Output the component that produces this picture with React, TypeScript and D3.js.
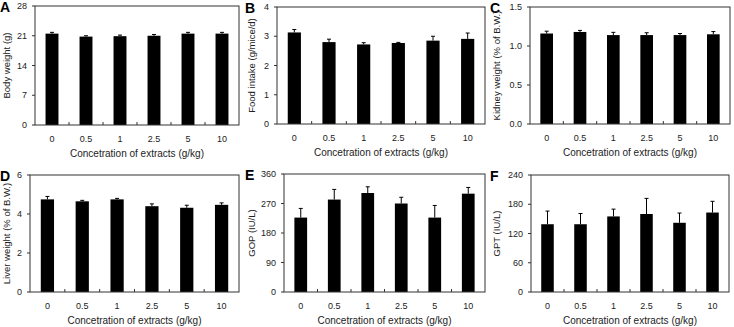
import React from 'react';
import * as d3 from 'd3';

// Dose groups (g/kg)
const doses = ['0', '0.5', '1', '2.5', '5', '10'];

// Body weight (g)
const bodyWeight = [21.5, 20.8, 20.9, 21.0, 21.5, 21.5];
const bodyWeightErr = [0.3, 0.2, 0.25, 0.3, 0.3, 0.3];
const bodyWeightTicks = [0, 7, 14, 21, 28];

// Food intake (g/mice/d)
const foodIntake = [3.13, 2.8, 2.72, 2.77, 2.85, 2.91];
const foodIntakeErr = [0.1, 0.1, 0.06, 0.02, 0.15, 0.2];
const foodIntakeTicks = [0, 1, 2, 3, 4];

// Kidney weight (% of B.W.)
const kidneyWeight = [1.16, 1.18, 1.14, 1.14, 1.14, 1.15];
const kidneyWeightErr = [0.03, 0.02, 0.035, 0.03, 0.02, 0.035];
const kidneyWeightTicks = [0.0, 0.5, 1.0, 1.5];

// Liver weight (% of B.W.)
const liverWeight = [4.75, 4.65, 4.75, 4.4, 4.32, 4.47];
const liverWeightErr = [0.15, 0.05, 0.05, 0.12, 0.13, 0.1];
const liverWeightTicks = [0, 2, 4, 6];

// GOP (IU/L)
const gop = [227, 282, 302, 270, 227, 300];
const gopErr = [28, 31, 19, 19, 37, 19];
const gopTicks = [0, 90, 180, 270, 360];

// GPT (IU/L)
const gpt = [139, 139, 155, 160, 142, 163];
const gptErr = [27, 22, 15, 32, 20, 23];
const gptTicks = [0, 60, 120, 180, 240];

const font = 'Arial, "Liberation Sans", Helvetica, sans-serif';

type PanelProps = {
  letter: string;
  yLabel: string;
  values: number[];
  errors: number[];
  ticks: number[];
  tickFormat: (v: number) => string;
  left: number;
  right: number;
  top: number;
  bottom: number;
  ox: number;
};

const Panel = ({ letter, yLabel, values, errors, ticks, tickFormat, left, right, top, bottom, ox }: PanelProps) => {
  const x = d3.scaleBand<string>().domain(doses).range([left, right]).paddingInner(0.62).paddingOuter(0.31);
  const y = d3.scaleLinear().domain([ticks[0], ticks[ticks.length - 1]]).range([bottom, top]);
  const step = x.step();
  const bw = x.bandwidth();
  const bounds = doses.slice(1).map((d) => (x(d) as number) - (step - bw) / 2);

  return (
    <g>
      <text x={ox} y={top + 6} fontSize={14} fontWeight="bold" fontFamily={font} fill="#000">
        {letter}
      </text>
      {/* bars with upper error bars */}
      {values.map((v, i) => {
        const cx = (x(doses[i]) as number) + bw / 2;
        const yTop = y(v + errors[i]);
        return (
          <g key={i}>
            <rect x={x(doses[i])} y={y(v)} width={bw} height={bottom - y(v)} fill="#000" />
            <line x1={cx} x2={cx} y1={y(v)} y2={yTop} stroke="#000" strokeWidth={1} />
            <line x1={cx - 2} x2={cx + 2} y1={yTop} y2={yTop} stroke="#000" strokeWidth={1} />
          </g>
        );
      })}
      {/* frame */}
      <rect x={left} y={top} width={right - left} height={bottom - top} fill="none" stroke="#333" strokeWidth={1} />
      {/* y ticks */}
      {ticks.map((t) => (
        <g key={t}>
          <line x1={left - 3} x2={left} y1={y(t)} y2={y(t)} stroke="#333" />
          <text x={left - 8} y={y(t)} dy="0.35em" textAnchor="end" fontSize={9} fontFamily={font} fill="#222">
            {tickFormat(t)}
          </text>
        </g>
      ))}
      {/* x ticks between groups */}
      {bounds.map((b, i) => (
        <line key={i} x1={b} x2={b} y1={bottom} y2={bottom - 3} stroke="#333" />
      ))}
      {doses.map((d) => (
        <text key={d} x={(x(d) as number) + bw / 2} y={bottom + 17} textAnchor="middle" fontSize={9} fontFamily={font} fill="#222">
          {d}
        </text>
      ))}
      <text x={(left + right) / 2} y={bottom + 32} textAnchor="middle" fontSize={10} fontFamily={font} fill="#222">
        Concetration of extracts (g/kg)
      </text>
      <text
        transform={`translate(${ox + 10},${(top + bottom) / 2}) rotate(-90)`}
        textAnchor="middle"
        fontSize={9.5}
        fontFamily={font}
        fill="#222"
      >
        {yLabel}
      </text>
    </g>
  );
};

const App = () => {
  const intFmt = (v: number) => String(v);
  const oneDec = d3.format('.1f');
  return (
    <svg width={734} height={327} style={{ position: 'absolute', left: 0, top: 0, background: '#fff' }}>
      <rect width={734} height={327} fill="#fff" />
      <Panel letter="A" yLabel="Body weight (g)" values={bodyWeight} errors={bodyWeightErr} ticks={bodyWeightTicks}
        tickFormat={intFmt} left={35} right={239} top={6} bottom={125} ox={0} />
      <Panel letter="B" yLabel="Food intake (g/mice/d)" values={foodIntake} errors={foodIntakeErr} ticks={foodIntakeTicks}
        tickFormat={intFmt} left={277} right={485} top={7} bottom={124} ox={245} />
      <Panel letter="C" yLabel="Kidney weight (% of B.W.)" values={kidneyWeight} errors={kidneyWeightErr} ticks={kidneyWeightTicks}
        tickFormat={oneDec} left={530} right={730} top={7} bottom={124} ox={490} />
      <Panel letter="D" yLabel="Liver weight (% of B.W.)" values={liverWeight} errors={liverWeightErr} ticks={liverWeightTicks}
        tickFormat={intFmt} left={30} right={239} top={175} bottom={292} ox={0} />
      <Panel letter="E" yLabel="GOP (IU/L)" values={gop} errors={gopErr} ticks={gopTicks}
        tickFormat={intFmt} left={284} right={485} top={174} bottom={292} ox={245} />
      <Panel letter="F" yLabel="GPT (IU/L)" values={gpt} errors={gptErr} ticks={gptTicks}
        tickFormat={intFmt} left={531} right={729} top={175} bottom={292} ox={490} />
    </svg>
  );
};

export default App;
